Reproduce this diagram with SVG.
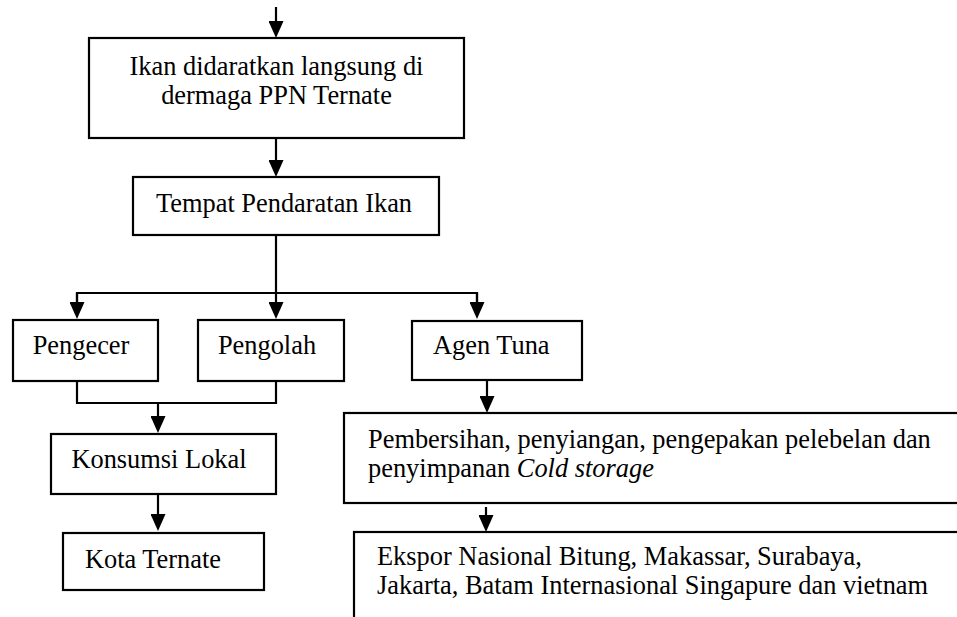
<svg xmlns="http://www.w3.org/2000/svg" width="957" height="617" viewBox="0 0 957 617">
<defs>
<marker id="ah" markerUnits="userSpaceOnUse" markerWidth="17" markerHeight="15" refX="8" refY="7.5" orient="auto">
<path d="M0,0 L17,7.5 L0,15 z" fill="#000"/>
</marker>
<style>
.box{fill:#fff;stroke:#000;stroke-width:2.2}
.ln{fill:none;stroke:#000;stroke-width:2.2}
.arr{fill:none;stroke:#000;stroke-width:2.2;marker-end:url(#ah)}
text{font-family:"Liberation Serif","Times New Roman",serif;font-size:26.4px;fill:#000}
.c{text-anchor:middle}
</style>
</defs>
<rect width="957" height="617" fill="#fff"/>
<g id="connectors">
<line class="arr" x1="276" y1="7" x2="276" y2="29"/>
<line class="arr" x1="276" y1="138" x2="276" y2="168"/>
<polyline class="ln" points="276,235 276,293"/>
<polyline class="ln" points="77,310 77,293 477,293 477,310"/>
<line class="arr" x1="77" y1="293" x2="77" y2="310"/>
<line class="arr" x1="276" y1="293" x2="276" y2="310"/>
<line class="arr" x1="477" y1="293" x2="477" y2="310"/>
<polyline class="ln" points="77,381 77,403 276,403 276,381"/>
<line class="arr" x1="158" y1="403" x2="158" y2="424"/>
<line class="arr" x1="158" y1="494" x2="158" y2="522"/>
<line class="arr" x1="487" y1="380" x2="487" y2="404"/>
<line class="arr" x1="486" y1="507" x2="486" y2="523"/>
</g>
<g id="n-ikan">
<rect class="box" x="89" y="38" width="375" height="100"/>
<text class="c" x="276.5" y="75">Ikan didaratkan langsung di</text>
<text class="c" x="276.5" y="104">dermaga PPN Ternate</text>
</g>
<g id="n-tempat">
<rect class="box" x="133" y="177" width="306" height="58"/>
<text class="c" x="284" y="212">Tempat Pendaratan Ikan</text>
</g>
<g id="n-pengecer">
<rect class="box" x="13" y="320" width="145" height="61"/>
<text class="c" x="81" y="354">Pengecer</text>
</g>
<g id="n-pengolah">
<rect class="box" x="198" y="320" width="146" height="61"/>
<text class="c" x="267" y="354">Pengolah</text>
</g>
<g id="n-agen">
<rect class="box" x="412" y="321" width="170" height="59"/>
<text x="433" y="354">Agen Tuna</text>
</g>
<g id="n-konsumsi">
<rect class="box" x="51" y="434" width="225" height="60"/>
<text class="c" x="159" y="468">Konsumsi Lokal</text>
</g>
<g id="n-kota">
<rect class="box" x="63" y="533" width="201" height="57"/>
<text class="c" x="153" y="568">Kota Ternate</text>
</g>
<g id="n-pembersihan">
<rect class="box" x="344" y="413" width="700" height="90"/>
<text x="368" y="448">Pembersihan, penyiangan, pengepakan pelebelan dan</text>
<text x="368" y="477">penyimpanan <tspan font-style="italic">Cold storage</tspan></text>
</g>
<g id="n-ekspor">
<rect class="box" x="354" y="532" width="700" height="200"/>
<text x="377" y="565">Ekspor Nasional Bitung, Makassar, Surabaya,</text>
<text x="377" y="594">Jakarta, Batam Internasional Singapure dan vietnam</text>
</g>
</svg>
